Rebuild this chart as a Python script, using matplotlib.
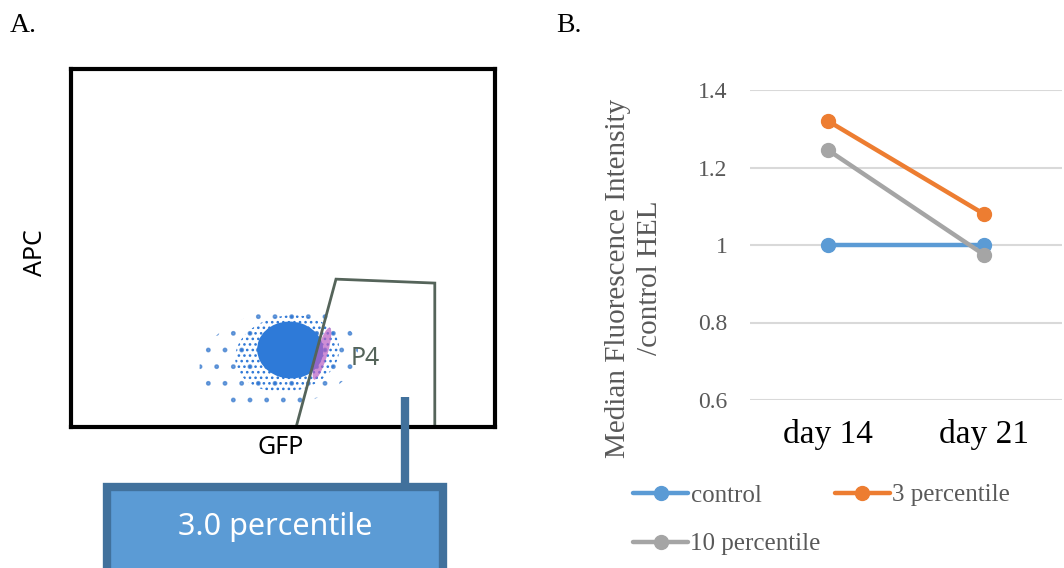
import matplotlib
matplotlib.use("Agg")
import matplotlib.pyplot as plt
from matplotlib.patches import Polygon, Ellipse, Rectangle
from matplotlib.lines import Line2D

# ---------------- data ----------------
days = ["day 14", "day 21"]
series_names = ["control", "3 percentile", "10 percentile"]
control = [1.0, 1.0]
pct3 = [1.32, 1.08]
pct10 = [1.245, 0.975]
y_ticks = [0.6, 0.8, 1.0, 1.2, 1.4]
y_ticklabels = ["0.6", "0.8", "1", "1.2", "1.4"]

# gate P4 vertices (normalised GFP / APC scale)
gate_x = [0.531, 0.625, 0.858, 0.858]
gate_y = [0.0, 0.413, 0.402, 0.0]

colors = {"control": "#5B9BD5", "3 percentile": "#ED7D31", "10 percentile": "#A5A5A5"}

W, H = 1064, 568
fig = plt.figure(figsize=(W / 100, H / 100), dpi=100)


def fx(px):
    return px / W


def fy(py):
    return 1 - py / H


# ---------------- panel A ----------------
axA = fig.add_axes([fx(71), fy(427), fx(495) - fx(71), fy(69) - fy(427)])
axA.set_xlim(0, 1)
axA.set_ylim(0, 1)
axA.set_xticks([])
axA.set_yticks([])
for s in axA.spines.values():
    s.set_linewidth(3.0)
    s.set_color("black")

plt.rcParams["hatch.linewidth"] = 1.1
# sparse halo of events
axA.add_patch(Ellipse((0.49, 0.19), 0.38, 0.27, angle=15, facecolor="none",
                      edgecolor="#3F7FD0", linewidth=0, hatch=".", alpha=0.75))
axA.add_patch(Ellipse((0.51, 0.205), 0.25, 0.21, angle=20, facecolor="none",
                      edgecolor="#2F78D6", linewidth=0, hatch="..."))
# dense core
axA.add_patch(Ellipse((0.517, 0.215), 0.155, 0.16, angle=25, facecolor="#2E7AD8",
                      edgecolor="none"))
# magenta events just across the gate edge
axA.add_patch(Ellipse((0.592, 0.205), 0.026, 0.15, angle=-14, facecolor="#B85FC4",
                      edgecolor="none", alpha=0.7))

axA.add_patch(Polygon(list(zip(gate_x, gate_y)), closed=False, fill=False,
                      edgecolor="#55645A", linewidth=2.0))
axA.text(0.693, 0.19, "P4", fontsize=18, color="#55645A", ha="center", va="center",
         family="Noto Sans")

fig.text(fx(35), fy(253), "APC", rotation=90, fontsize=18, ha="center", va="center",
         family="Noto Sans")
fig.text(fx(281), fy(447), "GFP", fontsize=18, ha="center", va="center",
         family="Noto Sans")

# leader line and label box
fig.add_artist(Line2D([fx(405), fx(405)], [fy(397), fy(488)], color="#41719C",
                      linewidth=6, solid_capstyle="butt"))
fig.add_artist(Rectangle((fx(107), fy(580)), fx(443) - fx(107), fy(487) - fy(580),
                         facecolor="#5B9BD5", edgecolor="#41719C", linewidth=6,
                         transform=fig.transFigure))
fig.text(fx(275), fy(527), "3.0 percentile", fontsize=22, color="white",
         ha="center", va="center", family="Noto Sans", weight="light")

fig.text(fx(10), fy(26), "A.", fontsize=20, family="Liberation Serif", va="center")
fig.text(fx(556), fy(26), "B.", fontsize=20, family="Liberation Serif", va="center")

# ---------------- panel B ----------------
axB = fig.add_axes([fx(750), fy(400), fx(1062) - fx(750), fy(90) - fy(400)])
xpos = list(range(len(days)))
handles = []
for name, vals in zip(series_names, [control, pct3, pct10]):
    h, = axB.plot(xpos, vals, color=colors[name], linewidth=3.2, marker="o",
                  markersize=10, label=name, solid_capstyle="round")
    handles.append(h)

axB.set_xlim(-0.5, 1.5)
axB.set_ylim(0.6, 1.4)
axB.set_yticks(y_ticks)
axB.set_yticklabels(y_ticklabels, fontsize=17, color="#595959", family="Liberation Serif")
axB.set_xticks(xpos)
axB.set_xticklabels(days, fontsize=24, color="black", family="Liberation Serif")
axB.tick_params(axis="y", length=0, pad=16)
axB.tick_params(axis="x", length=0, pad=14)
axB.grid(axis="y", color="#D9D9D9", linewidth=1.5)
axB.set_axisbelow(True)
for s in axB.spines.values():
    s.set_visible(False)

fig.text(fx(634), fy(278), "Median Fluorescence Intensity\n/control HEL", rotation=90,
         fontsize=21, color="#595959", family="Liberation Serif", ha="center",
         va="center", multialignment="center", linespacing=1.3)

leg = fig.legend([handles[0], handles[2], handles[1]],
                 [series_names[0], series_names[2], series_names[1]],
                 ncol=2, loc="upper left", bbox_to_anchor=(fx(633), fy(484)),
                 frameon=False, handlelength=2.2, handletextpad=0.1,
                 columnspacing=0.55, labelspacing=1.05, borderpad=0,
                 borderaxespad=0,
                 prop={"family": "Liberation Serif", "size": 18})
for t in leg.get_texts():
    t.set_color("#595959")

fig.savefig("out.png", dpi=100)
